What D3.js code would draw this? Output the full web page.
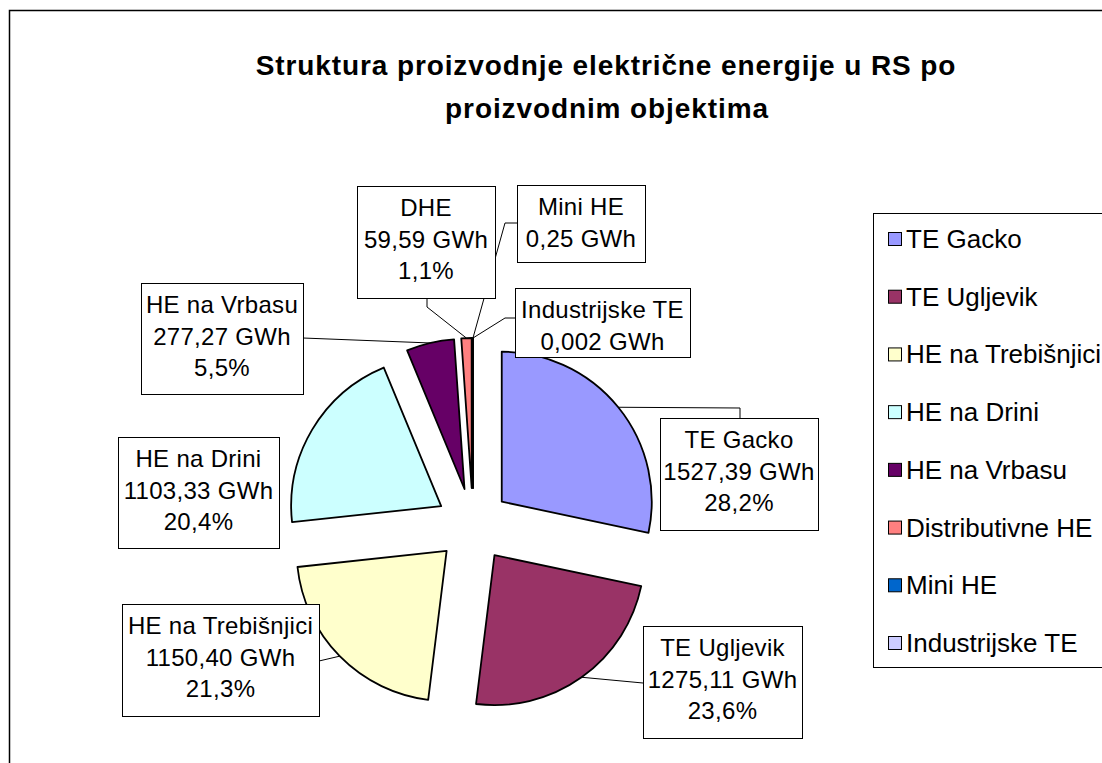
<!DOCTYPE html>
<html lang="en">
<head>
    <meta charset="utf-8">
    <script src="https://unpkg.com/d3@7/dist/d3.min.js"></script>
    <style>
        body { margin: 0; background: #fff; }
        svg { display: block; font-family: "Liberation Sans", Arial, sans-serif; }
    </style>
</head>
<body>
    <div id="chart"></div>

    <script>
        // data
        const names = ["TE Gacko", "TE Ugljevik", "HE na Trebišnjici", "HE na Drini",
            "HE na Vrbasu", "Distributivne HE", "Mini HE", "Industrijske TE"];
        const shortNames = ["TE Gacko", "TE Ugljevik", "HE na Trebišnjici", "HE na Drini",
            "HE na Vrbasu", "DHE", "Mini HE", "Industrijske TE"];
        const gwh = [1527.39, 1275.11, 1150.40, 1103.33, 277.27, 59.59, 0.25, 0.002];
        const gwhText = ["1527,39 GWh", "1275,11 GWh", "1150,40 GWh", "1103,33 GWh",
            "277,27 GWh", "59,59 GWh", "0,25 GWh", "0,002 GWh"];
        const pctText = ["28,2%", "23,6%", "21,3%", "20,4%", "5,5%", "1,1%", null, null];
        const colors = ["#9999FF", "#993366", "#FFFFCC", "#CCFFFF", "#660066", "#FF8080", "#0066CC", "#CCCCFF"];

        const width = 1102, height = 763;
        const cx = 473, cy = 525, radius = 150, explode = 37;

        // label boxes: x, y, w, h and the elbow points of the leader (null = no leader)
        const boxes = [
            { x: 660, y: 418, w: 158, h: 112, leader: [[740, 408], [740, 418]] },
            { x: 643, y: 626, w: 159, h: 112, leader: [[643, 683]] },
            { x: 122, y: 604, w: 197, h: 112, leader: [[319, 661]] },
            { x: 118, y: 437, w: 161, h: 111, leader: null },
            { x: 141, y: 283, w: 162, h: 111, leader: [[303, 338]] },
            { x: 357, y: 186, w: 138, h: 112, leader: [[427, 307], [427, 298]] },
            { x: 517, y: 185, w: 128, h: 77, leader: [[505, 223], [517, 223]] },
            { x: 515, y: 288, w: 175, h: 69, leader: [[505, 318], [515, 318]] }
        ];

        const svg = d3.select("#chart").append("svg")
            .attr("width", width)
            .attr("height", height);

        // outer chart frame (runs past the right and bottom edges)
        svg.append("rect")
            .attr("x", 9.5).attr("y", 10.5)
            .attr("width", 1200).attr("height", 800)
            .attr("fill", "#fff")
            .attr("stroke", "#000")
            .attr("stroke-width", 1.5);

        // title
        const title = svg.append("text")
            .attr("text-anchor", "middle")
            .attr("font-size", 28)
            .attr("font-weight", "bold")
            .attr("letter-spacing", 0.9);
        title.append("tspan").attr("x", 606).attr("y", 75)
            .text("Struktura proizvodnje električne energije u RS po");
        title.append("tspan").attr("x", 607).attr("y", 118)
            .text("proizvodnim objektima");

        const data = gwh.map((v, i) => ({ name: names[i], value: v, i: i }));
        const pie = d3.pie().sort(null).value(d => d.value)
            .startAngle(0).endAngle(2 * Math.PI);
        const arcs = pie(data);
        const arc = d3.arc().innerRadius(0).outerRadius(radius);

        const off = a => {
            const m = (a.startAngle + a.endAngle) / 2;
            return [Math.sin(m), -Math.cos(m)];
        };

        const pieG = svg.append("g").attr("transform", `translate(${cx},${cy})`);
        pieG.selectAll("path")
            .data(arcs)
            .join("path")
            .attr("transform", d => {
                const [ux, uy] = off(d);
                return `translate(${ux * explode},${uy * explode})`;
            })
            .attr("d", arc)
            .attr("fill", d => colors[d.data.i])
            .attr("stroke", "#000")
            .attr("stroke-width", 1.8)
            .attr("stroke-linejoin", "round");

        // leader lines
        const line = d3.line();
        arcs.forEach((a, i) => {
            const b = boxes[i];
            if (!b.leader) return;
            const [ux, uy] = off(a);
            const start = [cx + ux * (radius + explode), cy + uy * (radius + explode)];
            svg.append("path")
                .attr("d", line([start].concat(b.leader)))
                .attr("fill", "none")
                .attr("stroke", "#000")
                .attr("stroke-width", 1);
        });

        // data label boxes
        arcs.forEach((a, i) => {
            const b = boxes[i];
            const g = svg.append("g");
            g.append("rect")
                .attr("x", b.x + 0.5).attr("y", b.y + 0.5)
                .attr("width", b.w).attr("height", b.h)
                .attr("fill", "#fff")
                .attr("stroke", "#000")
                .attr("stroke-width", 1);
            const lines = [shortNames[i], gwhText[i], pctText[i]].filter(t => t);
            const t = g.append("text")
                .attr("text-anchor", "middle")
                .attr("font-size", 24)
                .attr("letter-spacing", 0.3);
            lines.forEach((s, k) => {
                t.append("tspan")
                    .attr("x", b.x + b.w / 2)
                    .attr("y", b.y + 30 + k * 31.5)
                    .text(s);
            });
        });

        // legend
        const legend = svg.append("g");
        legend.append("rect")
            .attr("x", 873.5).attr("y", 213.5)
            .attr("width", 300).attr("height", 454)
            .attr("fill", "#fff")
            .attr("stroke", "#000")
            .attr("stroke-width", 1);
        const ly = d3.scalePoint().domain(names).range([239, 643]);
        const items = legend.selectAll("g.item")
            .data(data)
            .join("g")
            .attr("class", "item")
            .attr("transform", d => `translate(888,${ly(d.name)})`);
        items.append("rect")
            .attr("x", 0.5).attr("y", -6.5)
            .attr("width", 13).attr("height", 13)
            .attr("fill", d => colors[d.i])
            .attr("stroke", "#000")
            .attr("stroke-width", 1);
        items.append("text")
            .attr("x", 18).attr("y", 9)
            .attr("font-size", 26)
            .text(d => d.name);
    </script>
</body>
</html>
